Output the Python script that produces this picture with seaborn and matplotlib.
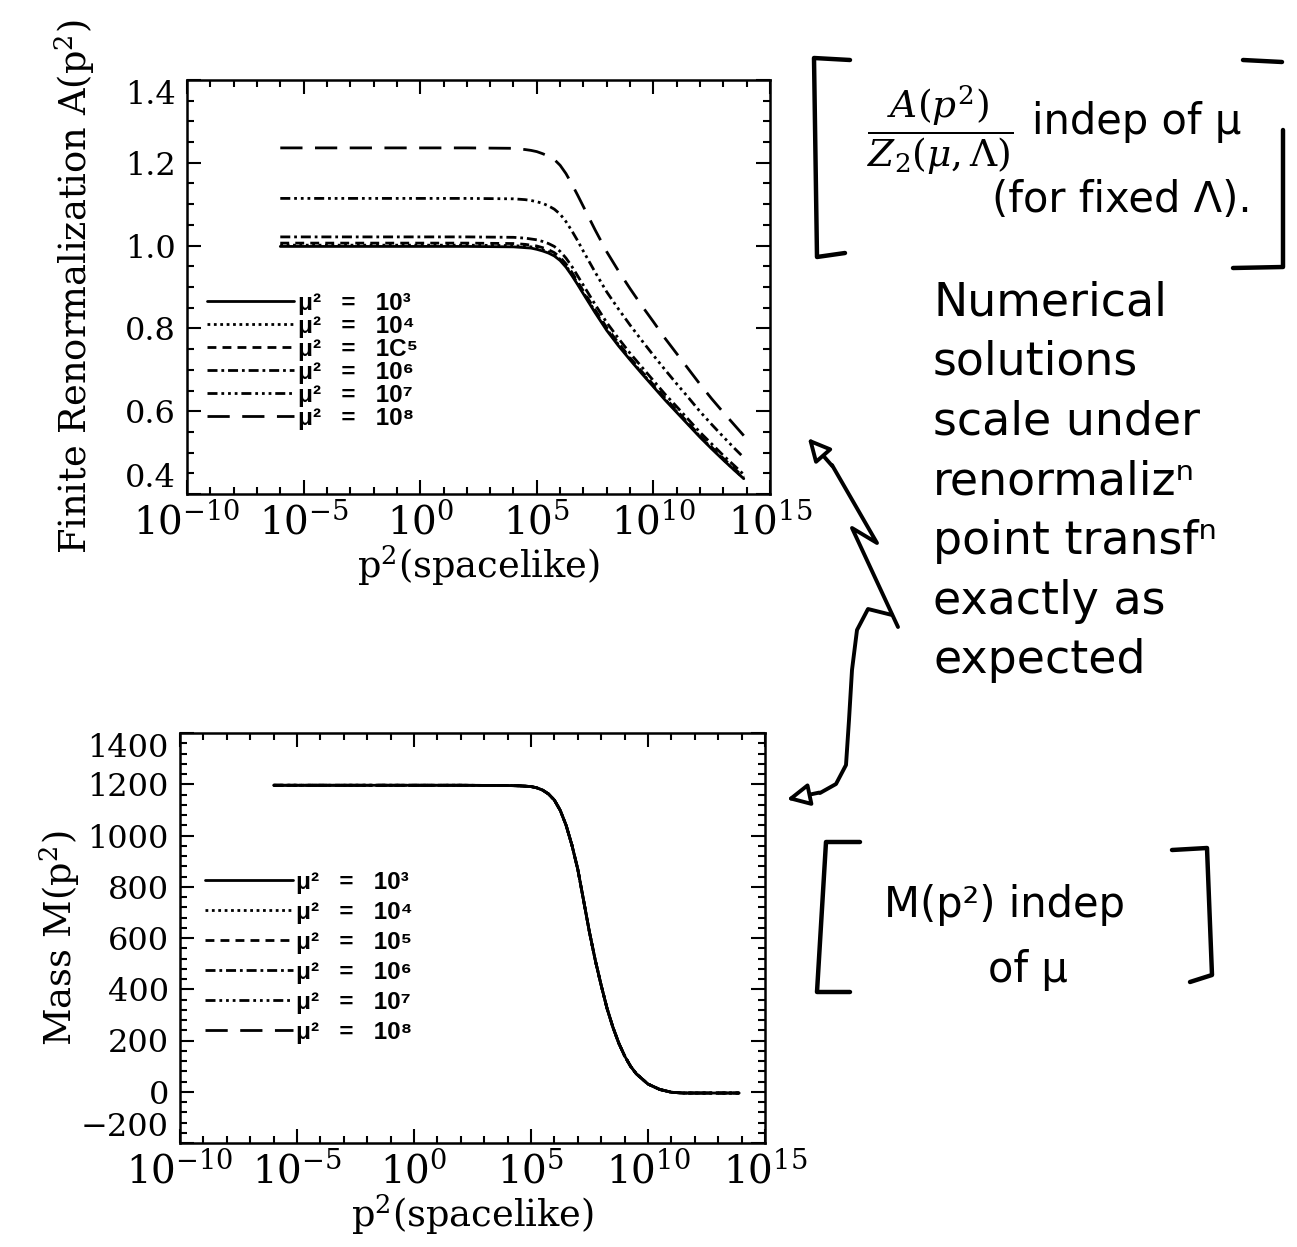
import numpy as np
import pandas as pd
import matplotlib
matplotlib.use("Agg")
import matplotlib.pyplot as plt
import seaborn as sns
from matplotlib.ticker import AutoMinorLocator, FixedLocator, NullFormatter
from matplotlib.lines import Line2D
from matplotlib.patches import FancyArrowPatch
from matplotlib.font_manager import FontProperties

# ---------------- data ----------------
p2_A = [1e-6, 1e-4, 1e-2, 1e0, 1e2, 1e4, 3.16e4, 5.62e4, 1e5, 1.78e5, 3.16e5, 5.62e5,
        1e6, 1.78e6, 3.16e6, 5.62e6, 1e7, 3.16e7, 1e8, 3.16e8, 1e9, 3.16e9, 1e10,
        3.16e10, 1e11, 3.16e11, 1e12, 3.16e12, 1e13, 3.16e13, 7.5e13]

mu2_labels_top = ["μ²   =   10³", "μ²   =   10⁴", "μ²   =   1C⁵",
                  "μ²   =   10⁶", "μ²   =   10⁷", "μ²   =   10⁸"]
mu2_labels_bottom = ["μ²   =   10³", "μ²   =   10⁴", "μ²   =   10⁵",
                     "μ²   =   10⁶", "μ²   =   10⁷", "μ²   =   10⁸"]

A_mu2_1e3 = [0.998, 0.998, 0.998, 0.998, 0.998, 0.997, 0.995, 0.994, 0.991, 0.987, 0.982,
             0.975, 0.964, 0.948, 0.928, 0.906, 0.883, 0.838, 0.795, 0.758, 0.724, 0.691,
             0.659, 0.627, 0.597, 0.567, 0.537, 0.509, 0.482, 0.456, 0.437]
A_mu2_1e4 = [1.001, 1.001, 1.001, 1.001, 1.001, 1.000, 0.998, 0.997, 0.994, 0.990, 0.985,
             0.978, 0.967, 0.951, 0.931, 0.909, 0.886, 0.841, 0.798, 0.761, 0.726, 0.693,
             0.661, 0.629, 0.599, 0.569, 0.539, 0.511, 0.483, 0.457, 0.438]
A_mu2_1e5 = [1.006, 1.006, 1.006, 1.006, 1.006, 1.005, 1.003, 1.001, 0.999, 0.995, 0.990,
             0.983, 0.972, 0.956, 0.936, 0.913, 0.890, 0.845, 0.802, 0.765, 0.729, 0.696,
             0.664, 0.632, 0.602, 0.571, 0.541, 0.513, 0.486, 0.460, 0.441]
A_mu2_1e6 = [1.021, 1.021, 1.021, 1.021, 1.021, 1.020, 1.018, 1.016, 1.014, 1.010, 1.005,
             0.998, 0.986, 0.970, 0.950, 0.927, 0.904, 0.858, 0.814, 0.776, 0.740, 0.707,
             0.674, 0.641, 0.611, 0.580, 0.549, 0.521, 0.493, 0.467, 0.447]
A_mu2_1e7 = [1.114, 1.114, 1.114, 1.114, 1.114, 1.113, 1.111, 1.109, 1.106, 1.102, 1.096,
             1.088, 1.076, 1.058, 1.036, 1.012, 0.986, 0.936, 0.888, 0.847, 0.808, 0.771,
             0.735, 0.700, 0.666, 0.633, 0.599, 0.568, 0.538, 0.509, 0.488]
A_mu2_1e8 = [1.236, 1.236, 1.236, 1.236, 1.236, 1.235, 1.232, 1.230, 1.227, 1.222, 1.216,
             1.208, 1.194, 1.174, 1.149, 1.122, 1.094, 1.038, 0.985, 0.939, 0.896, 0.855,
             0.816, 0.776, 0.739, 0.702, 0.665, 0.630, 0.597, 0.565, 0.541]

p2_M = [1e-6, 1e-4, 1e-2, 1e0, 1e2, 1e4, 3.16e4, 1e5, 1.78e5, 3.16e5, 5.62e5, 1e6,
        1.78e6, 3.16e6, 5.62e6, 1e7, 1.78e7, 3.16e7, 5.62e7, 1e8, 1.78e8, 3.16e8,
        5.62e8, 1e9, 1.78e9, 3.16e9, 1e10, 3.16e10, 1e11, 3.16e11, 1e12, 1e13, 7.9e13]
mass_M = [1196, 1196, 1196, 1196, 1196, 1195, 1194, 1191, 1186, 1177, 1162, 1138,
          1098, 1040, 962, 868, 745, 622, 512, 415, 325, 252, 190, 140, 100, 70, 30,
          9, -2, -5, -5, -5, -5]

x_major_ticks = [1e-10, 1e-5, 1e0, 1e5, 1e10, 1e15]
x_minor_ticks = [10.0 ** k for k in range(-10, 16)]
A_yticks = [0.4, 0.6, 0.8, 1.0, 1.2, 1.4]
M_yticks = [-200, 0, 200, 400, 600, 800, 1000, 1200, 1400]

# ---------------- tables ----------------
A_series = [A_mu2_1e3, A_mu2_1e4, A_mu2_1e5, A_mu2_1e6, A_mu2_1e7, A_mu2_1e8]
df_A = pd.concat([pd.DataFrame({"p2": p2_A, "A": vals, "mu2": lab})
                  for lab, vals in zip(mu2_labels_top, A_series)], ignore_index=True)
df_M = pd.concat([pd.DataFrame({"p2": p2_M, "M": mass_M, "mu2": lab})
                  for lab in mu2_labels_bottom], ignore_index=True)

# ---------------- style ----------------
sns.set_theme(style="ticks")
plt.rcParams.update({
    "font.family": ["DejaVu Serif"],
    "mathtext.fontset": "dejavuserif",
    "axes.linewidth": 1.8,
    "axes.edgecolor": "black",
    "axes.labelcolor": "black",
    "text.color": "black",
    "xtick.color": "black",
    "ytick.color": "black",
    "figure.facecolor": "white",
    "axes.facecolor": "white",
})

W, H = 1297, 1247
fig = plt.figure(figsize=(W / 100, H / 100), dpi=100)


def fx(px):
    return px / W


def fy(py):
    return 1 - py / H


ax1 = fig.add_axes([fx(187), fy(494), fx(770) - fx(187), fy(80) - fy(494)])
ax2 = fig.add_axes([fx(180), fy(1143), fx(765) - fx(180), fy(733) - fy(1143)])

line_styles = ["-", (0, (1, 1.3)), (0, (3.2, 2.2)), (0, (3.6, 1.4, 1, 1.4)),
               (0, (3.6, 1.4, 1, 1.4, 1, 1.4, 1, 1.4)), (0, (8, 4.5))]

for ax in (ax1, ax2):
    ax.set_xscale("log")

for lab, ls in zip(mu2_labels_top, line_styles):
    sns.lineplot(data=df_A[df_A["mu2"] == lab], x="p2", y="A", ax=ax1, color="black",
                 lw=2.0, linestyle=ls, label=lab, legend=False)

for lab, ls in zip(mu2_labels_bottom, line_styles):
    sns.lineplot(data=df_M[df_M["mu2"] == lab], x="p2", y="M", ax=ax2, color="black",
                 lw=2.0, linestyle=ls, label=lab, legend=False)

for ax in (ax1, ax2):
    ax.set_xlim(1e-10, 1e15)
    ax.xaxis.set_major_locator(FixedLocator(x_major_ticks))
    ax.xaxis.set_minor_locator(FixedLocator(x_minor_ticks))
    ax.xaxis.set_minor_formatter(NullFormatter())
    ax.tick_params(which="both", direction="in", top=True, right=True, width=1.5, pad=8)
    ax.tick_params(axis="x", labelsize=28, pad=6)
    ax.tick_params(axis="y", labelsize=23)
    ax.tick_params(which="major", length=10)
    ax.tick_params(which="minor", length=5)
    ax.set_xlabel("p$^2$(spacelike)", fontsize=26.5, labelpad=1)
    for s in ax.spines.values():
        s.set_visible(True)
        s.set_linewidth(1.8)

ax1.set_ylim(0.4, 1.4)
ax1.set_yticks(A_yticks)
ax1.set_yticklabels([f"{v:.1f}" for v in A_yticks])
ax1.yaxis.set_minor_locator(AutoMinorLocator(4))
ax1.set_ylabel("Finite Renormalization A(p$^2$)", fontsize=26.5)
ax1.yaxis.set_label_coords(-0.155, 0.5)

ax2.set_ylim(-200, 1400)
ax2.set_yticks(M_yticks)
ax2.set_yticklabels(["\u2212200"] + [str(v) for v in M_yticks[1:]])
ax2.yaxis.set_minor_locator(AutoMinorLocator(5))
ax2.set_ylabel("Mass M(p$^2$)", fontsize=26.5)
ax2.yaxis.set_label_coords(-0.168, 0.5)

# first / last y labels kept inside the frame, as in the original
for ax in (ax1, ax2):
    ticks = ax.yaxis.get_major_ticks()
    ticks[0].label1.set_verticalalignment("bottom")
    ticks[-1].label1.set_verticalalignment("top")

leg_font = FontProperties(family=["Liberation Sans", "DejaVu Sans"], weight="bold", size=17.5)
leg_kw = dict(frameon=False, borderpad=0, borderaxespad=0, handlelength=3.6,
              handletextpad=0.15, loc="upper left", prop=leg_font)
ax1.legend(bbox_to_anchor=(0.034, 0.488), labelspacing=0.0, **leg_kw)
ax2.legend(bbox_to_anchor=(0.043, 0.664), labelspacing=0.29, **leg_kw)

# ---------------- handwritten notes ----------------
hw = dict(family="DejaVu Sans", color="black")
fig.text(fx(940), fy(130), r"$\dfrac{A(p^2)}{Z_2(\mu,\Lambda)}$", fontsize=27,
         ha="center", va="center", color="black")
fig.text(fx(1137), fy(122), "indep of μ", fontsize=30, ha="center", va="center", **hw)
fig.text(fx(1122), fy(200), "(for fixed Λ).", fontsize=30, ha="center", va="center", **hw)

fig.text(fx(933), fy(280), "Numerical\nsolutions\nscale under\nrenormalizⁿ\npoint transfⁿ\nexactly as\nexpected",
         fontsize=33, ha="left", va="top", linespacing=1.42, **hw)

fig.text(fx(1005), fy(905), "M(p²) indep", fontsize=30, ha="center", va="center", **hw)
fig.text(fx(1028), fy(970), "of μ", fontsize=30, ha="center", va="center", **hw)


def poly(pts, lw=3.2):
    xs = [fx(p[0]) for p in pts]
    ys = [fy(p[1]) for p in pts]
    fig.add_artist(Line2D(xs, ys, transform=fig.transFigure, color="black", lw=lw,
                          solid_capstyle="round", solid_joinstyle="round"))


# brackets around A/Z2 note
poly([(850, 60), (814, 58), (817, 257), (845, 253)])
poly([(1283, 130), (1283, 267), (1233, 268)])
poly([(1243, 60), (1282, 62)])
# brackets around M note
poly([(860, 842), (826, 842), (817, 992), (850, 992)])
poly([(1172, 850), (1207, 848), (1212, 975), (1190, 982)])

# zig-zag arrow to upper panel
poly([(898, 627), (852, 528), (877, 543), (832, 465)], lw=2.8)
fig.add_artist(FancyArrowPatch((fx(834), fy(468)), (fx(806), fy(436)),
                               transform=fig.transFigure, arrowstyle="-|>",
                               mutation_scale=34, lw=2.8, fc="white", ec="black"))
# curved arrow to lower panel
poly([(892, 615), (868, 609), (857, 630), (852, 670), (849, 720), (846, 765),
      (836, 784), (820, 793)], lw=2.8)
fig.add_artist(FancyArrowPatch((fx(822), fy(792)), (fx(784), fy(800)),
                               transform=fig.transFigure, arrowstyle="-|>",
                               mutation_scale=34, lw=2.8, fc="white", ec="black"))

fig.savefig("out.png", dpi=100, facecolor="white")
